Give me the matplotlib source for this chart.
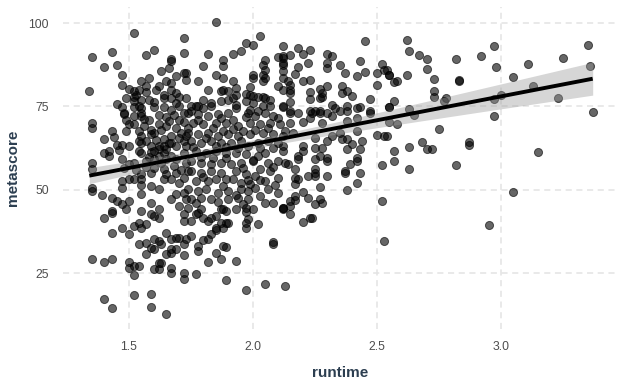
import numpy as np
import matplotlib
matplotlib.use("Agg")
import matplotlib.pyplot as plt

# (runtime, metascore) points, grouped by region
pts_top_left = [
    (1.52,97.0),(1.72,95.6),(1.35,89.8),(1.43,91.2),(1.60,92.0),(1.57,90.3),(1.67,89.2),(1.67,88.5),
    (1.72,91.0),(1.40,86.9),(1.45,87.3),(1.47,84.5),(1.72,85.1),(1.73,85.0),(1.73,83.0),(1.34,79.5),
    (1.47,81.3),(1.50,80.3),(1.52,79.5),(1.55,82.5),(1.57,81.2),(1.54,79.8),(1.57,79.2),(1.52,77.8),
    (1.52,76.5),(1.55,76.8),(1.54,75.0),(1.45,75.8),(1.47,74.7),(1.65,82.5),(1.67,82.0),(1.67,80.0),
    (1.64,78.5),(1.64,77.5),(1.69,79.0),(1.67,77.5),(1.70,77.8),(1.69,76.0),(1.70,75.0),(1.60,74.7),
    (1.64,74.8),(1.55,74.5),(1.52,74.8),(1.73,77.5),(1.75,75.0),(1.48,73.1),(1.55,73.1),(1.67,74.0),
    (1.72,73.1),(1.53,78.3),(1.58,77.0),(1.61,79.8),(1.60,76.2),(1.62,81.0),(1.58,83.5),(1.63,85.6),
    (1.69,84.2),(1.66,86.5),(1.49,77.4),
]
pts_top_mid = [
    (1.85,100.4),(2.03,96.0),(1.97,94.1),(2.00,93.4),(2.12,93.0),(1.82,90.8),(1.92,90.6),(1.95,91.5),
    (1.88,89.0),(1.88,87.2),(1.80,87.2),(2.05,89.0),(2.04,87.5),(2.10,89.7),(2.12,89.5),(2.12,87.5),
    (2.00,84.5),(2.00,83.5),(2.04,84.5),(2.05,83.5),(2.04,82.5),(2.05,86.0),(1.85,84.3),(1.88,83.5),
    (1.92,82.5),(1.78,82.5),(1.82,80.0),(1.88,80.0),(1.87,79.5),(1.90,79.5),(1.93,80.5),(1.93,78.5),
    (1.99,80.8),(1.97,78.8),(1.99,78.5),(2.00,78.2),(2.02,77.8),(2.04,77.8),(2.05,77.5),(2.07,77.0),
    (2.10,81.0),(2.12,80.0),(2.12,75.0),(1.92,77.5),(1.90,77.0),(1.87,76.5),(1.83,76.0),(1.80,77.0),
    (1.80,74.5),(1.83,75.0),(1.78,75.0),(1.77,75.0),(1.93,75.5),(1.93,74.5),(1.97,76.5),(2.00,76.0),
    (2.04,75.0),(2.07,75.0),(1.99,74.0),(2.02,73.5),(1.75,73.5),
]
pts_top_right = [
    (2.45,94.7),(2.18,92.5),(2.23,91.8),(2.20,90.7),(2.15,90.3),(2.12,90.0),(2.30,90.7),(2.32,90.0),
    (2.30,88.0),(2.30,86.5),(2.12,88.0),(2.12,85.5),(2.22,88.0),(2.18,86.8),(2.17,84.8),(2.35,87.5),
    (2.37,85.0),(2.43,88.5),(2.45,85.3),(2.42,84.0),(2.52,87.7),(2.53,86.0),(2.50,85.0),(2.55,84.5),
    (2.50,81.5),(2.20,82.7),(2.23,82.8),(2.12,83.5),(2.14,82.5),(2.15,81.5),(2.15,80.0),(2.15,79.0),
    (2.30,81.2),(2.27,80.3),(2.28,79.0),(2.23,79.2),(2.23,77.3),(2.27,77.5),(2.28,77.8),(2.36,81.0),
    (2.36,79.0),(2.38,79.5),(2.40,78.2),(2.47,77.3),(2.15,76.3),(2.12,74.8),(2.32,75.5),(2.33,74.5),
    (2.38,75.2),(2.42,74.5),(2.43,74.7),(2.55,74.8),(2.15,73.5),(2.23,73.5),(2.25,73.5),(2.27,73.5),
    (2.30,73.1),(2.35,73.5),(2.47,73.5),
]
pts_mid_left = [
    (1.35,70.1),(1.35,68.6),(1.43,67.5),(1.40,65.1),(1.49,67.5),(1.52,69.6),(1.52,72.1),(1.48,72.6),
    (1.55,72.1),(1.50,69.6),(1.47,63.3),(1.50,63.1),(1.45,63.3),(1.54,67.5),(1.55,66.0),(1.59,68.0),
    (1.60,67.1),(1.59,66.6),(1.62,69.6),(1.65,69.0),(1.57,64.6),(1.55,64.1),(1.54,64.6),(1.59,63.1),
    (1.62,63.1),(1.64,63.1),(1.67,64.1),(1.69,63.1),(1.72,64.6),(1.40,61.1),(1.42,61.6),(1.42,60.1),
    (1.47,59.1),(1.54,61.6),(1.55,61.1),(1.59,61.3),(1.60,61.6),(1.62,62.1),(1.64,61.1),(1.57,58.6),
    (1.60,59.1),(1.62,60.1),(1.65,59.1),(1.67,60.1),(1.69,59.1),(1.35,58.1),(1.35,56.1),(1.50,57.6),
    (1.52,58.1),(1.60,56.6),(1.64,56.1),(1.65,54.6),(1.59,55.1),(1.55,54.6),(1.55,53.1),(1.52,53.3),
    (1.50,53.3),(1.47,52.6),(1.47,50.6),(1.55,51.3),(1.59,51.1),(1.62,50.1),(1.64,53.1),(1.67,53.1),
    (1.69,55.1),(1.70,52.1),(1.72,53.6),(1.35,50.6),(1.35,49.6),(1.39,48.3),(1.43,47.6),(1.45,46.6),
    (1.47,45.6),(1.50,46.6),(1.49,44.3),(1.55,48.6),(1.59,46.1),(1.62,44.3),(1.55,43.6),(1.43,43.6),
    (1.67,47.1),(1.69,48.6),(1.72,49.1),(1.70,45.1),(1.73,47.1),(1.65,62.1),(1.73,63.1),(1.72,61.1),
    (1.73,58.1),(1.62,72.5),(1.65,71.8),(1.68,72.4),(1.70,71.0),(1.72,70.2),(1.66,70.5),(1.69,68.4),
    (1.71,67.0),(1.74,68.5),(1.63,67.8),(1.67,66.2),(1.70,65.5),(1.73,66.0),(1.64,65.3),(1.58,70.8),
    (1.56,71.3),(1.61,64.8),(1.66,64.0),(1.58,59.9),(1.63,58.0),(1.68,57.2),(1.71,56.0),(1.74,55.5),
    (1.57,56.8),(1.53,55.8),(1.48,56.5),(1.46,61.8),(1.44,65.8),(1.49,70.8),(1.56,69.0),
]
pts_mid_mid = [
    (1.74,73.1),(1.78,72.6),(1.82,72.1),(1.86,72.6),(1.90,73.1),(1.98,73.1),(2.01,72.1),(2.05,73.1),
    (2.08,72.1),(1.76,70.1),(1.80,69.6),(1.85,70.1),(1.89,70.1),(1.94,69.0),(1.99,70.1),(2.03,69.6),
    (2.07,70.1),(2.11,69.6),(1.74,67.1),(1.78,66.6),(1.82,67.1),(1.86,66.0),(1.90,66.6),(1.94,66.0),
    (1.99,66.6),(2.04,67.1),(2.08,66.6),(2.12,66.0),(1.75,64.6),(1.79,64.1),(1.83,64.6),(1.87,64.1),
    (1.91,64.1),(1.95,64.6),(2.02,64.1),(2.06,64.6),(2.10,64.1),(1.77,61.6),(1.81,61.1),(1.85,61.6),
    (1.89,61.1),(1.93,61.1),(1.97,60.6),(2.00,58.6),(2.00,58.9),(2.05,61.1),(2.10,58.6),(1.75,58.6),
    (1.79,58.1),(1.83,57.6),(1.87,58.1),(1.91,57.6),(1.95,58.1),(2.06,58.1),(1.75,55.6),(1.79,55.1),
    (1.83,55.6),(1.87,55.1),(1.93,55.6),(1.97,54.6),(2.01,54.1),(2.07,55.6),(1.77,52.6),(1.82,52.6),
    (1.89,53.1),(1.92,53.1),(1.95,52.1),(1.99,51.6),(2.05,52.6),(2.10,53.6),(1.74,50.1),(1.78,49.6),
    (1.81,50.1),(1.86,49.1),(1.90,49.6),(1.95,50.1),(1.98,49.6),(2.01,50.6),(2.06,50.1),(1.75,47.1),
    (1.79,47.6),(1.83,47.1),(1.90,47.1),(1.94,47.6),(1.98,47.1),(2.05,46.1),(2.08,46.1),(2.12,44.6),
    (1.74,44.6),(1.79,44.1),(1.87,44.1),(1.93,44.1),(1.97,44.6),(2.00,44.1),(1.78,70.9),(1.84,68.4),
    (1.88,67.6),(1.92,68.2),(1.96,67.7),(2.01,68.0),(2.06,68.6),(2.10,71.6),(1.97,71.7),(1.87,71.4),
    (1.81,65.4),(1.85,63.0),(1.89,62.8),(1.94,62.6),(1.98,63.2),(2.03,62.6),(2.08,62.5),(1.79,59.8),
    (1.84,59.6),(1.89,59.4),(1.96,56.6),(2.03,56.3),(2.08,56.9),(1.80,53.8),(1.85,53.2),(1.98,52.9),
    (2.03,53.0),(1.88,51.2),(1.93,48.4),(2.03,48.2),(1.77,46.0),(1.86,46.2),(1.96,45.6),(2.10,49.0),
    (2.09,51.3),(2.12,61.5),(2.12,63.0),(1.76,62.8),(1.92,70.8),(2.02,60.2),
]
pts_mid_right = [
    (2.15,73.1),(2.18,73.1),(2.24,73.1),(2.27,73.1),(2.32,72.1),(2.38,73.5),(2.47,73.1),(2.20,70.2),
    (2.15,70.1),(2.23,71.6),(2.28,70.1),(2.38,70.5),(2.42,71.6),(2.13,67.5),(2.16,67.1),(2.25,65.6),
    (2.30,64.6),(2.32,66.0),(2.35,67.1),(2.36,65.3),(2.38,65.1),(2.42,67.5),(2.40,63.6),(2.50,66.3),
    (2.53,66.0),(2.20,63.1),(2.25,62.6),(2.28,62.6),(2.38,62.1),(2.43,62.1),(2.20,61.6),(2.18,60.1),
    (2.18,59.1),(2.25,59.1),(2.27,60.1),(2.30,59.6),(2.30,58.6),(2.42,59.6),(2.42,58.6),(2.39,57.6),
    (2.52,57.3),(2.13,58.1),(2.14,57.6),(2.17,56.1),(2.25,56.1),(2.25,55.1),(2.25,54.1),(2.22,54.1),
    (2.17,53.6),(2.18,53.1),(2.17,51.6),(2.37,55.6),(2.37,54.9),(2.43,54.9),(2.30,54.1),(2.42,51.9),
    (2.27,50.9),(2.38,49.9),(2.20,49.3),(2.17,48.1),(2.17,46.9),(2.15,46.6),(2.22,47.6),(2.27,47.3),
    (2.28,45.9),(2.25,45.6),(2.15,45.1),(2.12,44.6),(2.52,46.6),(2.44,64.6),
]
pts_low_left = [
    (1.40,41.4),(1.43,43.1),(1.47,38.6),(1.43,36.9),(1.50,36.6),(1.52,39.1),(1.54,40.1),(1.55,38.6),
    (1.57,39.6),(1.59,42.6),(1.62,41.4),(1.60,42.1),(1.54,33.6),(1.57,34.1),(1.60,35.1),(1.62,34.6),
    (1.59,32.6),(1.60,32.3),(1.63,33.6),(1.65,37.1),(1.67,35.1),(1.69,35.6),(1.67,31.1),(1.67,32.1),
    (1.65,30.6),(1.69,32.3),(1.72,33.6),(1.73,35.1),(1.75,36.1),(1.72,30.4),(1.57,30.6),(1.35,29.3),
    (1.40,28.4),(1.43,29.3),(1.50,28.4),(1.50,26.6),(1.52,27.1),(1.54,27.1),(1.52,24.4),(1.60,26.1),
    (1.62,26.1),(1.62,27.9),(1.63,27.9),(1.67,26.4),(1.67,24.9),(1.72,25.1),(1.72,23.1),(1.77,24.6),
    (1.40,17.2),(1.43,14.6),(1.52,18.4),(1.59,18.6),(1.59,14.9),(1.65,12.6),(1.82,28.3),(1.87,29.3),
    (1.85,30.9),(1.88,33.1),(1.78,33.1),(1.78,31.6),(1.80,35.0),(1.82,35.3),(1.83,36.6),(1.85,37.9),
    (1.88,38.4),(1.72,42.6),(1.72,40.6),(1.75,40.6),(1.77,42.6),(1.78,43.1),(1.80,41.6),(1.82,40.6),
    (1.83,41.6),(1.85,42.1),(1.87,40.1),(1.85,38.6),(1.89,40.1),(1.88,44.1),(1.70,35.6),
]
pts_low_mid = [
    (1.89,43.6),(1.97,43.3),(1.90,40.1),(1.97,40.1),(1.98,41.3),(1.97,38.4),(2.02,39.6),(2.15,42.7),
    (2.20,40.4),(2.23,41.6),(2.24,41.5),(2.12,44.1),(2.08,33.8),(2.08,34.3),(1.89,32.9),(1.93,28.7),
    (1.89,23.0),(1.97,20.0),(2.05,21.6),(2.13,21.0),(2.53,34.5),
]
pts_right = [
    (2.62,95.0),(2.63,91.7),(2.67,90.5),(2.70,89.2),(2.70,86.2),(2.82,89.3),(2.92,90.1),(2.97,93.2),
    (2.98,86.7),(3.11,87.6),(3.25,89.4),(3.35,93.4),(3.36,87.0),(2.54,86.0),(2.55,84.3),(2.57,82.2),
    (2.58,82.7),(2.62,84.3),(2.73,83.2),(2.83,82.5),(2.83,82.8),(2.73,79.6),(2.73,77.7),(2.77,76.5),
    (2.78,77.5),(3.05,83.7),(3.13,81.2),(2.97,77.2),(3.00,78.5),(3.23,77.6),(3.37,73.4),(2.97,72.2),
    (2.57,76.5),(2.55,74.8),(2.63,74.3),(2.65,72.4),(2.55,70.2),(2.58,69.8),(2.54,66.0),(2.75,68.1),
    (2.57,61.6),(2.63,62.8),(2.68,64.2),(2.70,62.3),(2.72,62.3),(2.87,64.3),(2.87,63.5),(3.15,61.4),
    (2.57,58.5),(2.63,56.1),(2.82,57.4),(3.05,49.2),(2.95,39.3),
]

all_pts = (pts_top_left + pts_top_mid + pts_top_right + pts_mid_left + pts_mid_mid
           + pts_mid_right + pts_low_left + pts_low_mid + pts_right)
runtime = np.array([p[0] for p in all_pts])
metascore = np.array([p[1] for p in all_pts])

x_ticks = [1.5, 2.0, 2.5, 3.0]
y_ticks = [25, 50, 75, 100]

fig = plt.figure(figsize=(6.24, 3.84), dpi=100)
W, H = 624, 384
px_l, px_r, py_t, py_b = 63, 617, 7, 329
ax = fig.add_axes([px_l / W, 1 - py_b / H, (px_r - px_l) / W, (py_b - py_t) / H])
ax.set_xlim(1.234, 3.468)
ax.set_ylim(8.2, 104.8)

for s in ax.spines.values():
    s.set_visible(False)
ax.set_xticks(x_ticks)
ax.set_yticks(y_ticks)
ax.set_xticklabels([f"{v:.1f}" for v in x_ticks])
ax.set_yticklabels([str(v) for v in y_ticks])
ax.tick_params(axis="x", length=0, labelsize=8.8, labelcolor="#4d4d4d", pad=9)
ax.tick_params(axis="y", length=0, labelsize=8.8, labelcolor="#4d4d4d", pad=10)
for lab in ax.get_xticklabels() + ax.get_yticklabels():
    lab.set_family("Liberation Sans")
ax.grid(True, color="#e3e3e3", linestyle=(0, (4, 3)), linewidth=1.1)
ax.set_axisbelow(True)

ax.scatter(runtime, metascore, s=34, facecolor="black", edgecolor="black",
           linewidths=0.7, alpha=0.6, zorder=2)

# linear fit with 95% confidence band
n = len(runtime)
b1, b0 = np.polyfit(runtime, metascore, 1)
xs = np.linspace(runtime.min(), runtime.max(), 200)
yhat = b0 + b1 * xs
resid = metascore - (b0 + b1 * runtime)
s_err = np.sqrt(np.sum(resid ** 2) / (n - 2))
sxx = np.sum((runtime - runtime.mean()) ** 2)
se = s_err * np.sqrt(1 / n + (xs - runtime.mean()) ** 2 / sxx)
tval = 1.964
ax.fill_between(xs, yhat - tval * se, yhat + tval * se, color="#999999", alpha=0.4,
                linewidth=0, zorder=3)
ax.plot(xs, yhat, color="black", linewidth=2.8, zorder=4, solid_capstyle="butt")

ax.set_xlabel("runtime", fontsize=11, fontweight="bold", color="#2c3e50",
              family="Liberation Sans", labelpad=9)
ax.set_ylabel("metascore", fontsize=11, fontweight="bold", color="#2c3e50",
              family="Liberation Sans", labelpad=6)

fig.savefig("out.png", dpi=100)
